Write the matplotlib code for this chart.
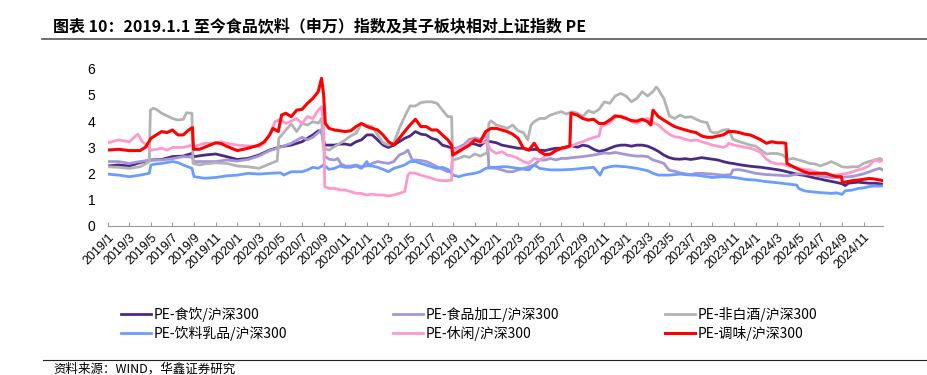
import matplotlib
matplotlib.use("Agg")
import matplotlib.pyplot as plt
from matplotlib.lines import Line2D

plt.rcParams['font.family'] = ['Noto Sans CJK SC', 'DejaVu Sans']

# ---------------- data (x = months since 2019/1) ----------------
tick_labels = ["2019/1", "2019/3", "2019/5", "2019/7", "2019/9", "2019/11",
               "2020/1", "2020/3", "2020/5", "2020/7", "2020/9", "2020/11",
               "2021/1", "2021/3", "2021/5", "2021/7", "2021/9", "2021/11",
               "2022/1", "2022/3", "2022/5", "2022/7", "2022/9", "2022/11",
               "2023/1", "2023/3", "2023/5", "2023/7", "2023/9", "2023/11",
               "2024/1", "2024/3", "2024/5", "2024/7", "2024/9", "2024/11"]
tick_pos = [0, 2, 4, 6, 8, 10, 12, 14, 16, 18, 20, 22, 24, 26, 28, 30, 32, 34,
            36, 38, 40, 42, 44, 46, 48, 50, 52, 54, 56, 58, 60, 62, 64, 66, 68, 70]

# PE-食饮/沪深300
food_bev_t = [0, 1, 2, 3, 4, 5, 6, 7, 7.8, 8, 9, 10, 11, 12, 13, 14, 15, 16, 17, 18, 18.5, 19, 19.5, 19.8,
              20.1, 20.5, 21, 21.5, 22, 22.5, 23, 23.5, 24, 24.5, 25, 25.5, 26, 26.5, 27, 27.5, 28, 28.5,
              29, 29.5, 30, 30.5, 31, 31.5, 32, 32.5, 33, 33.5, 34, 34.5, 35, 35.5, 36, 36.5, 37, 37.5,
              38, 38.5, 39, 39.5, 40, 40.5, 41, 41.5, 42, 42.5, 43, 43.5, 44, 44.5, 45, 45.5, 46, 46.5,
              47, 47.5, 48, 48.5, 49, 49.5, 50, 50.5, 51, 51.5, 52, 52.5, 53, 53.5, 54, 54.5, 55, 55.5,
              56, 56.5, 57, 57.5, 58, 58.5, 59, 59.5, 60, 60.5, 61, 61.5, 62, 62.5, 63, 63.5, 64, 64.5,
              65, 65.5, 66, 66.5, 67, 67.5, 68, 68.3, 68.6, 69, 69.5, 70, 70.5, 71, 71.5, 71.8]
food_bev_v = [2.28, 2.32, 2.28, 2.41, 2.51, 2.53, 2.64, 2.66, 2.76, 2.64, 2.70, 2.74, 2.64, 2.53, 2.57, 2.70,
              2.89, 3.02, 3.08, 3.21, 3.34, 3.47, 3.63, 3.60,
              3.08, 3.08, 3.08, 3.12, 3.12, 3.08, 3.21, 3.28, 3.47, 3.47, 3.28, 3.08, 2.99, 3.08, 3.21,
              3.34, 3.43, 3.60, 3.50, 3.47, 3.34, 3.28, 3.08, 3.02, 2.96, 2.89, 3.08, 3.15, 3.12, 3.05,
              3.24, 3.21, 3.17, 3.08, 3.04, 3.00, 2.96, 2.96, 2.89, 2.92, 2.89, 2.87, 2.92, 2.96, 2.96,
              3.02, 3.05, 3.00, 3.08, 3.04, 2.92, 2.84, 2.88, 2.96, 3.04, 3.08, 3.08, 3.04, 3.08, 3.08,
              3.04, 2.95, 2.84, 2.70, 2.60, 2.55, 2.54, 2.56, 2.53, 2.56, 2.60, 2.57, 2.54, 2.51, 2.45,
              2.40, 2.37, 2.33, 2.30, 2.27, 2.25, 2.23, 2.20, 2.17, 2.14, 2.10, 2.05, 2.00, 1.95, 1.92,
              1.87, 1.82, 1.78, 1.73, 1.69, 1.65, 1.60, 1.53, 1.62, 1.64, 1.66, 1.64, 1.62, 1.62, 1.60, 1.58]

# PE-食品加工/沪深300
food_proc_t = [0, 1, 2, 3, 4, 5, 6, 7, 7.8, 8, 9, 10, 11, 12, 13, 14, 15, 16, 17, 18, 18.5, 19, 19.5, 19.8,
               20.1, 20.5, 21, 21.3, 21.6, 22, 22.5, 23, 23.5, 24, 24.5, 25, 25.5, 26, 26.5, 27, 27.5,
               27.8, 28.2, 28.5, 29, 29.5, 30, 30.5, 31, 31.5, 31.85, 31.95, 32.5, 33, 33.5, 34, 34.5,
               35, 35.15, 35.3, 35.5, 36, 36.5, 37, 37.5, 38, 38.5, 39, 39.5, 40, 40.5, 41, 41.5, 42,
               42.5, 43, 43.5, 44, 44.5, 45, 45.5, 46, 46.5, 47, 47.5, 48, 48.5, 49, 49.5, 50, 50.5, 51,
               51.5, 51.8, 52, 52.5, 53, 53.5, 54, 54.5, 55, 56, 57, 57.7, 57.9, 58.5, 59, 60, 61, 62,
               63, 64, 65, 66, 67, 68, 69, 70, 70.5, 71, 71.5, 71.8]
food_proc_v = [2.45, 2.45, 2.38, 2.45, 2.51, 2.51, 2.56, 2.64, 2.62, 2.45, 2.45, 2.45, 2.51, 2.47, 2.53,
               2.66, 2.87, 3.00, 3.15, 3.38, 3.28, 3.38, 3.56, 3.68,
               2.66, 2.54, 2.51, 2.57, 2.36, 2.28, 2.28, 2.32, 2.25, 2.28, 2.38, 2.45, 2.41, 2.38, 2.45,
               2.70, 2.79, 2.89, 2.51, 2.51, 2.49, 2.45, 2.36, 2.25, 2.15, 2.06, 2.08, 2.90, 3.00, 3.10,
               3.30, 3.35, 3.30, 3.40, 3.55, 2.20, 2.20, 2.19, 2.13, 2.06, 2.06, 2.13, 2.19, 2.25, 2.32,
               2.51, 2.51, 2.57, 2.51, 2.57, 2.57, 2.60, 2.62, 2.64, 2.67, 2.70, 2.74, 2.78, 2.76, 2.80,
               2.76, 2.72, 2.68, 2.66, 2.66, 2.64, 2.51, 2.45, 2.38, 2.22, 2.12, 2.08, 2.02, 1.98, 1.95,
               2.00, 2.00, 1.97, 1.93, 1.95, 2.13, 2.14, 2.10, 2.00, 1.95, 1.93, 1.90, 1.98, 1.97, 1.90,
               1.84, 1.85, 1.88, 1.98, 2.05, 2.13, 2.19, 2.12]

# PE-非白酒/沪深300
non_baijiu_t = [0, 1, 2, 3, 3.5, 3.85, 3.95, 4.2, 4.5, 5, 5.5, 6, 6.5, 7, 7.3, 7.8, 7.9, 8.5, 9, 10, 11,
                12, 13, 14, 15, 15.7, 15.85, 16.5, 17, 17.5, 18, 18.5, 19, 19.5, 19.8, 20.0, 20.5, 21,
                21.5, 22, 22.5, 23, 23.5, 24, 24.5, 25, 25.5, 26, 26.5, 27, 27.5, 28, 28.5, 29, 29.5, 30,
                30.5, 31, 31.5, 31.85, 31.95, 32.5, 33, 33.5, 34, 34.5, 35, 35.15, 35.3, 35.5, 36, 36.5,
                37, 37.5, 38, 38.5, 38.9, 39.2, 39.5, 40, 40.5, 41, 41.5, 42, 42.5, 43, 43.5, 44, 44.5,
                45, 45.5, 46, 46.5, 47, 47.5, 48, 48.5, 49, 49.5, 50, 50.5, 50.8, 51, 51.2, 51.5, 51.8,
                52, 52.5, 53, 53.5, 54, 54.5, 55, 55.5, 55.8, 56, 56.5, 57, 57.5, 57.9, 58.5, 59, 59.5,
                60, 60.5, 61, 61.5, 62, 62.5, 63, 63.5, 64, 64.5, 65, 65.5, 66, 66.5, 67, 67.5, 68,
                68.5, 69, 69.5, 70, 70.5, 71, 71.5, 71.8]
non_baijiu_v = [2.25, 2.23, 2.19, 2.25, 2.36, 2.45, 4.42, 4.49, 4.45, 4.30, 4.20, 4.10, 4.04, 4.07, 4.32,
                4.30, 2.38, 2.32, 2.36, 2.40, 2.38, 2.28, 2.25, 2.19, 2.36, 2.48, 3.34, 3.66, 3.89, 3.60,
                3.91, 3.85, 3.98, 3.92, 4.10, 2.96, 2.89, 3.02, 3.15, 3.28, 3.43, 3.53, 3.89, 3.85, 3.79,
                3.47, 3.17, 3.08, 3.17, 3.72, 4.17, 4.58, 4.58, 4.71, 4.74, 4.74, 4.68, 4.42, 4.17, 4.17,
                2.51, 2.57, 2.66, 2.61, 2.74, 2.66, 2.76, 2.79, 3.91, 4.01, 3.85, 3.79, 3.72, 3.85, 3.63,
                3.56, 3.28, 3.85, 3.98, 4.10, 4.10, 4.23, 4.30, 4.36, 4.27, 4.36, 4.30, 4.17, 4.40, 4.32,
                4.45, 4.74, 4.68, 4.96, 5.06, 4.96, 4.74, 4.87, 5.13, 4.96, 5.13, 5.30, 5.22, 5.06, 4.87,
                4.49, 4.20, 4.10, 4.23, 4.14, 4.17, 4.07, 3.98, 3.94, 3.63, 3.56, 3.56, 3.66, 3.68, 3.30,
                3.21, 3.15, 3.08, 3.04, 2.89, 2.74, 2.76, 2.76, 2.70, 2.54, 2.57, 2.51, 2.45, 2.38, 2.36,
                2.28, 2.36, 2.45, 2.36, 2.25, 2.23, 2.25, 2.25, 2.38, 2.45, 2.51, 2.57, 2.51]

# PE-饮料乳品/沪深300
drink_dairy_t = [0, 1, 2, 3, 3.85, 4, 4.5, 5, 6, 6.5, 7, 7.8, 8, 8.5, 9, 10, 11, 12, 13, 14, 15, 16, 16.3,
                 17, 18, 18.5, 19, 19.5, 20, 20.5, 21, 21.5, 22, 22.5, 23, 23.5, 24, 24.2, 24.5, 25, 25.5,
                 26, 26.5, 27, 27.5, 28, 28.5, 29, 29.5, 30, 30.5, 31, 31.5, 32, 32.5, 33, 33.5, 34, 34.5,
                 35, 35.5, 36, 36.5, 37, 38, 39, 39.5, 40, 41, 42, 43, 44, 45, 45.6, 45.9, 46.5, 47, 48,
                 49, 50, 50.5, 51, 52, 53, 54, 54.5, 55, 56, 57, 58, 58.5, 59, 60, 61, 62, 63, 63.8, 64,
                 64.5, 65, 66, 67, 67.5, 68, 68.3, 69, 69.5, 70, 70.5, 71, 71.5, 71.8]
drink_dairy_v = [1.97, 1.93, 1.87, 1.93, 2.00, 2.32, 2.36, 2.38, 2.45, 2.41, 2.32, 2.19, 1.87, 1.84, 1.81,
                 1.84, 1.90, 1.93, 2.00, 1.97, 2.00, 2.02, 1.93, 2.06, 2.06, 2.13, 2.23, 2.19, 2.32, 2.15,
                 2.19, 2.28, 2.23, 2.23, 2.28, 2.19, 2.45, 2.28, 2.28, 2.23, 2.15, 2.06, 2.19, 2.25, 2.32,
                 2.45, 2.45, 2.38, 2.32, 2.25, 2.19, 2.23, 2.15, 1.93, 1.87, 1.93, 1.97, 2.00, 2.06, 2.19,
                 2.23, 2.23, 2.25, 2.25, 2.19, 2.13, 2.32, 2.19, 2.13, 2.13, 2.15, 2.19, 2.23, 1.93, 2.19,
                 2.25, 2.28, 2.25, 2.19, 2.10, 2.00, 1.93, 1.93, 1.97, 1.93, 1.93, 1.90, 1.84, 1.87, 1.84,
                 1.81, 1.77, 1.74, 1.68, 1.64, 1.59, 1.55, 1.42, 1.33, 1.30, 1.26, 1.23, 1.25, 1.19, 1.33,
                 1.36, 1.42, 1.44, 1.49, 1.51, 1.51, 1.52]

# PE-休闲/沪深300
snack_t = [0, 1, 2, 2.8, 3.2, 3.6, 4, 4.5, 5, 5.5, 6, 7, 7.8, 8, 9, 10, 10.5, 11, 12, 13, 14, 14.5, 15,
           15.5, 16, 16.5, 17, 17.5, 18, 18.5, 19, 19.5, 19.8, 20.0, 20.1, 20.5, 21, 21.5, 22, 22.5, 23,
           23.5, 24, 24.5, 25, 25.5, 26, 26.5, 27, 27.5, 27.8, 28, 28.5, 29, 29.5, 30, 30.5, 31, 31.5,
           31.85, 31.95, 32.5, 33, 33.5, 34, 34.5, 35, 35.5, 36, 36.5, 37, 37.5, 38, 38.5, 39, 39.5, 40,
           40.5, 41, 41.5, 42, 42.5, 43, 43.5, 44, 44.5, 45, 45.5, 45.7, 46, 46.5, 47, 47.5, 48, 48.5, 49,
           49.5, 50, 50.5, 51, 51.5, 52, 52.5, 53, 53.5, 54, 54.5, 55, 55.5, 56, 56.5, 57, 57.3, 57.5, 58,
           58.5, 59, 59.5, 60, 60.5, 61, 61.5, 62, 62.5, 63, 63.5, 64, 64.5, 65, 65.5, 66, 66.5, 67, 67.5,
           68, 68.5, 69, 69.5, 70, 70.5, 71, 71.5, 71.8]
snack_v = [3.17, 3.28, 3.21, 3.50, 3.21, 3.08, 2.89, 2.92, 2.96, 2.89, 2.99, 2.99, 3.08, 3.02, 3.15, 3.15,
           3.21, 3.15, 3.08, 3.05, 3.02, 3.15, 3.47, 3.98, 4.07, 3.91, 4.00, 4.10, 3.91, 4.17, 4.10, 4.42,
           4.55, 3.79, 1.49, 1.42, 1.42, 1.36, 1.36, 1.30, 1.23, 1.23, 1.17, 1.20, 1.17, 1.17, 1.13, 1.17,
           1.23, 1.30, 1.93, 2.02, 2.00, 1.93, 1.87, 1.81, 1.74, 1.72, 1.72, 1.74, 2.76, 2.96, 3.00, 3.21,
           3.30, 3.17, 3.21, 2.89, 2.76, 2.83, 2.70, 2.66, 2.57, 2.45, 2.38, 2.57, 2.51, 2.64, 2.76, 2.87,
           2.92, 3.00, 3.05, 3.15, 3.21, 3.30, 3.37, 3.43, 3.79, 3.85, 3.94, 4.14, 4.20, 4.14, 3.98, 3.91,
           4.04, 4.10, 3.94, 3.85, 3.66, 3.50, 3.40, 3.37, 3.30, 3.25, 3.28, 3.21, 3.15, 3.08, 3.04, 3.00,
           3.04, 3.15, 3.08, 3.04, 3.00, 2.96, 2.89, 2.79, 2.54, 2.41, 2.36, 2.36, 2.28, 2.23, 2.19, 2.15,
           2.13, 2.06, 2.00, 1.97, 1.93, 1.93, 1.97, 2.00, 2.06, 2.13, 2.19, 2.28, 2.51, 2.45, 2.51]

# PE-调味/沪深300
seasoning_t = [0, 1, 2, 3, 3.5, 4, 4.5, 5, 5.5, 6, 6.5, 7, 7.5, 7.85, 7.95, 8.5, 9, 10, 10.5, 11, 12, 13,
               14, 14.5, 15, 15.3, 15.8, 16.1, 16.5, 17, 17.5, 18, 18.5, 19, 19.5, 19.8, 20.0, 20.15, 20.5,
               21, 21.5, 22, 22.5, 23, 23.5, 24, 24.5, 25, 25.5, 26, 26.5, 27, 27.5, 28, 28.5, 29, 29.5, 30,
               30.5, 31, 31.5, 31.85, 31.95, 32.5, 33, 33.5, 34, 34.5, 35, 35.5, 36, 36.5, 37, 37.5, 38,
               38.5, 39, 39.5, 40, 40.5, 41, 41.5, 42, 42.5, 42.8, 42.9, 43.5, 44, 44.5, 45, 45.5, 46,
               46.5, 47, 47.5, 48, 48.5, 49, 49.5, 50, 50.3, 50.5, 51, 51.5, 52, 52.5, 53, 53.5, 54, 54.5,
               55, 55.5, 56, 56.5, 57, 57.5, 58, 58.5, 59, 59.5, 60, 60.5, 61, 61.5, 62, 62.5, 62.8, 62.9,
               63.5, 64, 64.5, 65, 65.5, 66, 66.5, 67, 67.5, 67.95, 68.05, 68.5, 69, 69.5, 70, 70.5, 71,
               71.5, 71.8]
seasoning_v = [2.89, 2.92, 2.87, 2.87, 3.00, 3.34, 3.47, 3.60, 3.56, 3.66, 3.47, 3.47, 3.66, 3.75, 2.92,
               2.92, 3.00, 3.17, 3.14, 3.04, 2.87, 2.96, 3.08, 3.21, 3.47, 3.72, 3.60, 4.23, 4.30, 4.17,
               4.42, 4.45, 4.68, 4.87, 5.13, 5.64, 5.00, 3.91, 3.72, 3.66, 3.63, 3.60, 3.63, 3.79, 3.91,
               3.79, 3.72, 3.66, 3.47, 3.21, 3.08, 3.34, 3.60, 3.85, 4.07, 3.79, 3.79, 3.66, 3.66, 3.47,
               3.28, 3.08, 2.70, 2.83, 2.96, 3.08, 3.28, 3.21, 3.60, 3.72, 3.72, 3.66, 3.60, 3.50, 3.34,
               2.96, 2.89, 3.15, 2.83, 2.72, 2.73, 2.87, 2.96, 3.00, 3.05, 4.30, 4.23, 4.10, 4.04, 4.07,
               3.91, 3.91, 4.04, 4.20, 4.17, 4.10, 4.02, 4.00, 4.07, 3.98, 3.85, 4.42, 4.17, 4.04, 3.91,
               3.79, 3.72, 3.66, 3.60, 3.56, 3.43, 3.38, 3.38, 3.43, 3.47, 3.60, 3.60, 3.56, 3.50, 3.47,
               3.38, 3.28, 3.15, 3.21, 3.17, 3.17, 3.15, 2.38, 2.25, 2.15, 2.06, 2.00, 2.00, 2.00, 2.00,
               1.93, 1.87, 1.87, 1.64, 1.68, 1.72, 1.74, 1.77, 1.80, 1.78, 1.74, 1.72]

series = [
    ("PE-食饮/沪深300", food_bev_t, food_bev_v, "#4B2A85", 2.0),
    ("PE-食品加工/沪深300", food_proc_t, food_proc_v, "#A597D6", 2.0),
    ("PE-非白酒/沪深300", non_baijiu_t, non_baijiu_v, "#B3B3B3", 2.0),
    ("PE-饮料乳品/沪深300", drink_dairy_t, drink_dairy_v, "#6A9DFF", 2.0),
    ("PE-休闲/沪深300", snack_t, snack_v, "#FF99CC", 2.0),
    ("PE-调味/沪深300", seasoning_t, seasoning_v, "#FF0000", 2.2),
]

title = "图表 10：2019.1.1 至今食品饮料（申万）指数及其子板块相对上证指数 PE"
source = "资料来源：WIND，华鑫证券研究"

# ---------------- figure ----------------
W, H = 927, 375
fig = plt.figure(figsize=(W / 100, H / 100), dpi=100)
ax = fig.add_axes([107.7 / W, 1 - 225.5 / H, (883 - 107.7) / W, (225.5 - 68.9) / H])

handles = []
for i, (lab, t, v, c, lw) in enumerate(series):
    ln, = ax.plot(t, v, color=c, lw=lw, label=lab, zorder=2 + i, solid_joinstyle='round')
    handles.append(ln)

ax.set_xlim(0, 71.8)
ax.set_ylim(0, 6)
ax.set_yticks(range(0, 7))
ax.set_xticks(tick_pos)
ax.set_xticklabels(tick_labels, rotation=45, ha='right', va='top', rotation_mode='anchor',
                   fontsize=9, family=['Liberation Sans', 'DejaVu Sans'])
for lbl in ax.get_yticklabels():
    lbl.set_family(['Liberation Sans', 'DejaVu Sans'])
    lbl.set_fontsize(10)
ax.tick_params(axis='y', length=0, pad=9)
ax.tick_params(axis='x', direction='in', length=3, color='#9a9a9a', width=0.8, pad=4)
for s in ('top', 'right', 'left'):
    ax.spines[s].set_visible(False)
ax.spines['bottom'].set_color('#9a9a9a')
ax.spines['bottom'].set_linewidth(0.8)

# legend: three columns, two rows
col_x = [121 / W, 393 / W, 665 / W]
cols = [[handles[0], handles[3]], [handles[1], handles[4]], [handles[2], handles[5]]]
for cx, hs in zip(col_x, cols):
    fig.legend(handles=hs, labels=[h.get_label() for h in hs], loc='center left',
               bbox_to_anchor=(cx, 1 - 324 / H), frameon=False, fontsize=10,
               handlelength=2.15, handletextpad=0.22, labelspacing=0.33,
               borderpad=0, borderaxespad=0)

# title and source
fig.text(53 / W, 1 - 27 / H, title, fontsize=11.5, fontweight='bold', va='center', ha='left')
fig.add_artist(Line2D([42 / W, 1.0], [1 - 38.5 / H] * 2, color='#555555', lw=1.2))
fig.add_artist(Line2D([43 / W, 1.0], [1 - 360 / H] * 2, color='#222222', lw=0.8))
fig.text(53 / W, 1 - 369 / H, source, fontsize=9, va='center', ha='left')

fig.savefig("out.png", dpi=100)
